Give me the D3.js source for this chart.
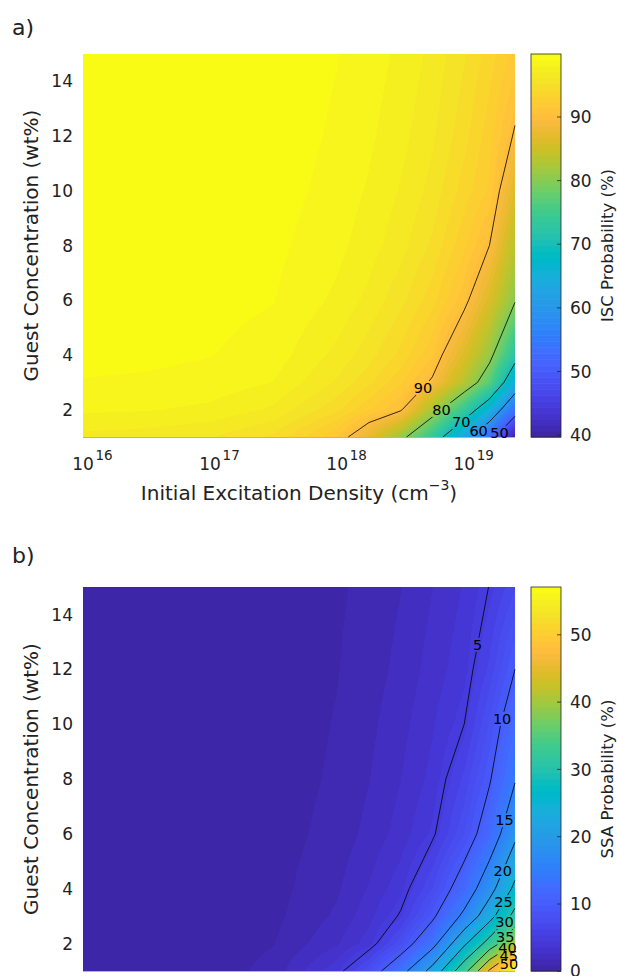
<!DOCTYPE html>
<meta charset="utf-8">
<style>
body { margin: 0; background: #fff; }
text { font-family: "DejaVu Sans", sans-serif; fill: #222; }
</style>
<svg width="617" height="976"></svg>
<script src="https://d3js.org/d3.v7.min.js"></script>
<script>
// ---- data ----
// initial excitation density (cm^-3), grid columns
var density = [1e16, 3.16e16, 1e17, 3.16e17, 1e18, 1.78e18, 3.16e18, 5.62e18, 1e19, 1.58e19, 2.51e19];
// guest concentration (wt%), grid rows
var conc = [1, 2, 3, 4, 6, 8, 10, 12, 15];

// ISC probability (%), one row per concentration
var isc = [
  [96.8, 96.6, 96.2, 95.0, 91.5, 87.2, 81.5, 73.5, 62.9, 53.0, 39.7],
  [98.2, 98.1, 97.8, 96.9, 94.5, 92.5, 90.4, 82.4, 74.0, 65.5, 53.3],
  [98.9, 98.8, 98.6, 98.0, 96.0, 94.5, 92.6, 89.6, 83.4, 77.0, 64.7],
  [99.3, 99.2, 99.0, 98.5, 96.8, 95.6, 94.0, 91.6, 86.4, 81.3, 72.3],
  [99.6, 99.5, 99.3, 99.0, 97.8, 96.8, 95.5, 93.7, 90.8, 86.2, 80.3],
  [99.8, 99.7, 99.5, 99.2, 98.3, 97.5, 96.5, 95.0, 92.6, 90.0, 83.4],
  [99.9, 99.8, 99.6, 99.4, 98.6, 97.9, 97.0, 95.8, 93.8, 92.2, 86.6],
  [99.9, 99.8, 99.7, 99.5, 98.8, 98.2, 97.4, 96.3, 94.6, 92.8, 89.7],
  [99.9, 99.9, 99.8, 99.6, 99.0, 98.5, 97.8, 96.8, 95.3, 93.8, 92.0]
];

// SSA probability (%), one row per concentration
var ssa = [
  [0.05, 0.15, 0.4, 1.3, 4.3, 7.9, 13.2, 21.7, 33.3, 45.6, 57.1],
  [0.05, 0.1, 0.3, 0.9, 2.6, 4.1, 7.8, 13.4, 24.2, 32.0, 40.2],
  [0.05, 0.1, 0.25, 0.7, 2.0, 3.3, 5.2, 9.3, 16.0, 23.2, 31.6],
  [0.05, 0.1, 0.2, 0.6, 1.7, 2.8, 4.2, 7.2, 12.0, 18.2, 26.1],
  [0.05, 0.1, 0.2, 0.5, 1.3, 2.1, 3.1, 4.7, 8.0, 12.0, 18.9],
  [0.05, 0.1, 0.2, 0.45, 1.1, 1.8, 2.7, 3.9, 6.5, 9.7, 14.7],
  [0.05, 0.1, 0.2, 0.4, 1.0, 1.6, 2.4, 3.5, 5.0, 8.2, 12.3],
  [0.05, 0.1, 0.2, 0.35, 0.9, 1.4, 2.1, 3.1, 4.2, 6.5, 10.0],
  [0.05, 0.1, 0.15, 0.3, 0.8, 1.2, 1.8, 2.7, 3.7, 5.05, 7.0]
];

var iscLevels = [50, 60, 70, 80, 90];
var ssaLevels = [5, 10, 15, 20, 25, 30, 35, 40, 45, 50];
var xTicks = [1e16, 1e17, 1e18, 1e19];
var yTicks = [2, 4, 6, 8, 10, 12, 14];
var iscTicks = [40, 50, 60, 70, 80, 90];
var ssaTicks = [0, 10, 20, 30, 40, 50];

// ---- layout ----
var svg = d3.select("svg");
var plotLeft = 83, plotRight = 515, cbLeft = 531, cbRight = 561;
// concentration at which each contour label sits (same order as levels)
var labelConcA = [1.16, 1.22, 1.55, 2.0, 2.8];
var labelConcB = [12.9, 10.2, 6.5, 4.65, 3.52, 2.79, 2.24, 1.84, 1.55, 1.26];

// matlab parula (64)
var parula = ["#3e26a8","#402ab4","#422ec0","#4432cb","#4537d5","#463cde","#4741e5","#4847eb",
  "#484df0","#4852f4","#4758f8","#465efb","#4563fd","#4269fe","#3e6fff","#3875fe",
  "#327cfc","#2f81fa","#2e87f7","#2d8cf3","#2b91ef","#2796eb","#259be7","#23a0e5",
  "#20a5e2","#1ca9df","#18addb","#12b1d6","#08b5d0","#01b8ca","#02bbc3","#0bbdbd",
  "#19bfb6","#24c1ae","#2cc4a7","#31c69f","#37c897","#3fca8e","#4acb84","#57cc7a",
  "#64cd6f","#72cd64","#81cc59","#8fca4e","#9dc943","#abc739","#b9c431","#c5c22a",
  "#d1bf27","#dcbd29","#e6bb2d","#efba36","#f8ba3d","#febe3c","#fec338","#fec934",
  "#fccf30","#fad62d","#f7dc2a","#f5e327","#f5e924","#f6ef20","#f7f51b","#f9fb14"];
var parulaRgb = parula.map(function(c) { return d3.rgb(c); });

var lx = density.map(Math.log10);

function lerpIndex(arr, f) {
  f = Math.max(0, Math.min(arr.length - 1, f));
  var i = Math.min(arr.length - 2, Math.floor(f));
  return arr[i] + (f - i) * (arr[i + 1] - arr[i]);
}

// isolines from d3.contours, with the padded-border segments removed
function isolines(values, level) {
  var n = values[0].length, m = values.length;
  var c = d3.contours().size([n, m]).thresholds([level])(values.flat())[0];
  var lines = [];
  c.coordinates.forEach(function(poly) {
    poly.forEach(function(ring) {
      var pts = ring.slice(0, -1);
      var edge = pts.map(function(p) { return p[0] <= 0 || p[0] >= n || p[1] <= 0 || p[1] >= m; });
      var start = edge.indexOf(true);
      if (start < 0) { lines.push(ring); return; }
      var cur = [];
      for (var k = 1; k <= pts.length; k++) {
        var idx = (start + k) % pts.length;
        if (edge[idx]) { if (cur.length > 1) lines.push(cur); cur = []; }
        else cur.push(pts[idx]);
      }
    });
  });
  return lines;
}

function drawPanel(p) {
  var g = svg.append("g");
  var x = d3.scaleLog().domain([density[0], density[density.length - 1]]).range([plotLeft, plotRight]);
  var y = d3.scaleLinear().domain([conc[0], conc[conc.length - 1]]).range([p.bottom, p.top]);
  var flat = p.values.flat();
  var vmin = d3.min(flat), vmax = d3.max(flat);
  var cidx = d3.scaleQuantize().domain([vmin, vmax]).range(d3.range(64));

  // interpolated surface
  var w = plotRight - plotLeft, h = p.bottom - p.top;
  var canvas = document.createElement("canvas");
  canvas.width = w; canvas.height = h;
  var ctx = canvas.getContext("2d");
  var img = ctx.createImageData(w, h);
  for (var py = 0; py < h; py++) {
    var cy = y.invert(p.top + py + 0.5);
    var j = Math.max(0, Math.min(conc.length - 2, d3.bisectRight(conc, cy) - 1));
    var ty = (cy - conc[j]) / (conc[j + 1] - conc[j]);
    for (var px = 0; px < w; px++) {
      var cx = Math.log10(x.invert(plotLeft + px + 0.5));
      var i = Math.max(0, Math.min(lx.length - 2, d3.bisectRight(lx, cx) - 1));
      var tx = (cx - lx[i]) / (lx[i + 1] - lx[i]);
      var r0 = p.values[j], r1 = p.values[j + 1];
      var v = (1 - ty) * ((1 - tx) * r0[i] + tx * r0[i + 1]) + ty * ((1 - tx) * r1[i] + tx * r1[i + 1]);
      var col = parulaRgb[cidx(v)];
      var k = (py * w + px) * 4;
      img.data[k] = col.r; img.data[k + 1] = col.g; img.data[k + 2] = col.b; img.data[k + 3] = 255;
    }
  }
  ctx.putImageData(img, 0, 0);
  g.append("image").attr("x", plotLeft).attr("y", p.top).attr("width", w).attr("height", h)
    .attr("href", canvas.toDataURL());
  // faint bottom axis line showing under the surface edge
  g.append("line").attr("x1", plotLeft).attr("x2", plotRight).attr("y1", p.bottom + 0.5).attr("y2", p.bottom + 0.5)
    .attr("stroke", "#262626").attr("stroke-opacity", 0.35);

  // contour lines
  var mask = svg.append("defs").append("mask").attr("id", "mask" + p.id)
    .attr("maskUnits", "userSpaceOnUse").attr("x", 0).attr("y", 0).attr("width", 617).attr("height", 1100);
  mask.append("rect").attr("width", 617).attr("height", 1100).attr("fill", "#fff");
  var lineG = g.append("g").attr("mask", "url(#mask" + p.id + ")");
  var labelG = g.append("g");
  var line = d3.line();

  p.levels.forEach(function(level, li) {
    var lines = isolines(p.values, level).map(function(l) {
      return l.map(function(c) {
        var cc = lerpIndex(conc, c[1] - 0.5);
        return [x(Math.pow(10, lerpIndex(lx, c[0] - 0.5))), y(cc), cc];
      });
    });
    lines.forEach(function(l) {
      lineG.append("path").attr("d", line(l.map(function(d) { return [d[0], d[1]]; })))
        .attr("fill", "none").attr("stroke", "#000").attr("stroke-width", 0.8);
    });
    // label where the line crosses the chosen concentration
    var t = p.labelAt[li], pos = null;
    lines.forEach(function(l) {
      for (var k = 1; k < l.length && !pos; k++) {
        var a = l[k - 1], b = l[k];
        if ((a[2] - t) * (b[2] - t) <= 0 && a[2] !== b[2]) {
          var s = (t - a[2]) / (b[2] - a[2]);
          pos = [a[0] + s * (b[0] - a[0]), a[1] + s * (b[1] - a[1])];
        }
      }
    });
    if (!pos) return;
    var txt = labelG.append("text").attr("x", pos[0]).attr("y", pos[1]).attr("dy", "0.36em")
      .attr("text-anchor", "middle").style("font-size", "14.5px").style("fill", "#000").text(level);
    var bb = txt.node().getBBox();
    mask.append("rect").attr("x", bb.x - 1).attr("y", bb.y + 1).attr("width", bb.width + 2)
      .attr("height", bb.height - 2).attr("fill", "#000");
  });

  // y ticks
  yTicks.forEach(function(v) {
    g.append("text").attr("x", plotLeft - 10).attr("y", y(v)).attr("dy", "0.36em")
      .attr("text-anchor", "end").style("font-size", "17px").text(v);
  });
  // x ticks (10^n) and title; panel b's sit below the picture edge
  if (p.xAxis) {
    xTicks.forEach(function(v) {
      var tx = x(v);
      g.append("text").attr("x", tx).attr("y", p.bottom + 33).attr("text-anchor", "middle")
        .style("font-size", "17px").text("10");
      g.append("text").attr("x", tx + 12.5).attr("y", p.bottom + 23)
        .style("font-size", "13.5px").text(Math.round(Math.log10(v)));
    });
    var xl = g.append("text").attr("x", (plotLeft + plotRight) / 2).attr("y", p.bottom + 63)
      .attr("text-anchor", "middle").style("font-size", "20px");
    xl.append("tspan").text("Initial Excitation Density (cm");
    xl.append("tspan").attr("dy", -10).style("font-size", "14px").text("\u22123");
    xl.append("tspan").attr("dy", 10).text(")");
  }
  g.append("text").attr("transform", "translate(38," + (p.top + p.bottom) / 2 + ") rotate(-90)")
    .attr("text-anchor", "middle").style("font-size", "20px").text("Guest Concentration (wt%)");
  g.append("text").attr("x", 12).attr("y", p.tagY).style("font-size", "22px").text(p.tag);

  // colorbar
  var cb = d3.scaleLinear().domain([vmin, vmax]).range([p.bottom, p.top]);
  parula.forEach(function(col, k) {
    var v0 = vmin + k * (vmax - vmin) / 64, v1 = vmin + (k + 1) * (vmax - vmin) / 64;
    g.append("rect").attr("x", cbLeft).attr("width", cbRight - cbLeft)
      .attr("y", cb(v1)).attr("height", cb(v0) - cb(v1) + 0.6).attr("fill", col);
  });
  g.append("rect").attr("x", cbLeft).attr("y", p.top).attr("width", cbRight - cbLeft)
    .attr("height", h).attr("fill", "none").attr("stroke", "#262626").attr("stroke-width", 0.8);
  p.cbTicks.forEach(function(v) {
    g.append("line").attr("x1", cbRight - 4).attr("x2", cbRight).attr("y1", cb(v)).attr("y2", cb(v))
      .attr("stroke", "#262626").attr("stroke-width", 0.8);
    g.append("text").attr("x", cbRight + 9).attr("y", cb(v)).attr("dy", "0.36em")
      .style("font-size", "17px").text(v);
  });
  g.append("text").attr("transform", "translate(607," + (p.top + p.bottom) / 2 + ") rotate(-90)")
    .attr("text-anchor", "middle").attr("dy", "0.36em").style("font-size", "16.5px").text(p.cbLabel);
}

drawPanel({ id: "a", top: 54, bottom: 437, values: isc, levels: iscLevels, labelAt: labelConcA,
  cbTicks: iscTicks, cbLabel: "ISC Probability (%)", tag: "a)", tagY: 35, xAxis: true });
drawPanel({ id: "b", top: 587, bottom: 971, values: ssa, levels: ssaLevels, labelAt: labelConcB,
  cbTicks: ssaTicks, cbLabel: "SSA Probability (%)", tag: "b)", tagY: 563, xAxis: false });
</script>
